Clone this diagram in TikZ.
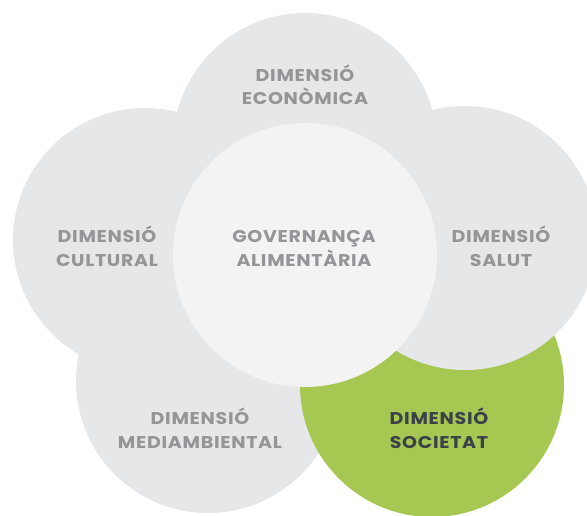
\documentclass[tikz,border=0pt]{standalone}
\usepackage{fontspec}
\setmainfont{Poppins}[FakeStretch=1.12, LetterSpace=4]
\definecolor{petal}{HTML}{E6E7E8}
\definecolor{core}{HTML}{F3F3F4}
\definecolor{leaf}{HTML}{A6C852}
\definecolor{labelgray}{HTML}{939598}
\definecolor{labeldark}{HTML}{3A4149}
\tikzset{
  disc/.style={circle, draw=none, inner sep=0pt, minimum size=264pt},
  petaldisc/.style={disc, fill=petal},
  lbl/.style={align=center, font=\fontsize{17}{23.5}\selectfont\bfseries, text=labelgray, inner sep=0pt, anchor=base},
}
\begin{document}
\begin{tikzpicture}[x=1pt,y=-1pt]
\useasboundingbox (0,0) rectangle (587,516);
\begin{scope}
\clip (0,0) rectangle (587,516);
\node[petaldisc] (med) at (208,381) {};
\node[disc, fill=leaf] (soc) at (432,385) {};
\node[petaldisc] (eco) at (305,145) {};
\node[petaldisc] (cul) at (145,240) {};
\node[petaldisc] (sal) at (465,238) {};
\node[disc, fill=core] (gov) at (305,255) {};
\end{scope}
\node[lbl] (teco) at (305,105) {DIMENSIÓ\\ECONÒMICA};
\node[lbl] (tcul) at (107,266) {DIMENSIÓ\\CULTURAL};
\node[lbl] (tgov) at (304,266) {GOVERNANÇA\\ALIMENTÀRIA};
\node[lbl] (tsal) at (501,266) {DIMENSIÓ\\SALUT};
\node[lbl] (tmed) at (200,448) {DIMENSIÓ\\MEDIAMBIENTAL};
\node[lbl, text=labeldark] (tsoc) at (439,448) {DIMENSIÓ\\SOCIETAT};
\end{tikzpicture}
\end{document}
